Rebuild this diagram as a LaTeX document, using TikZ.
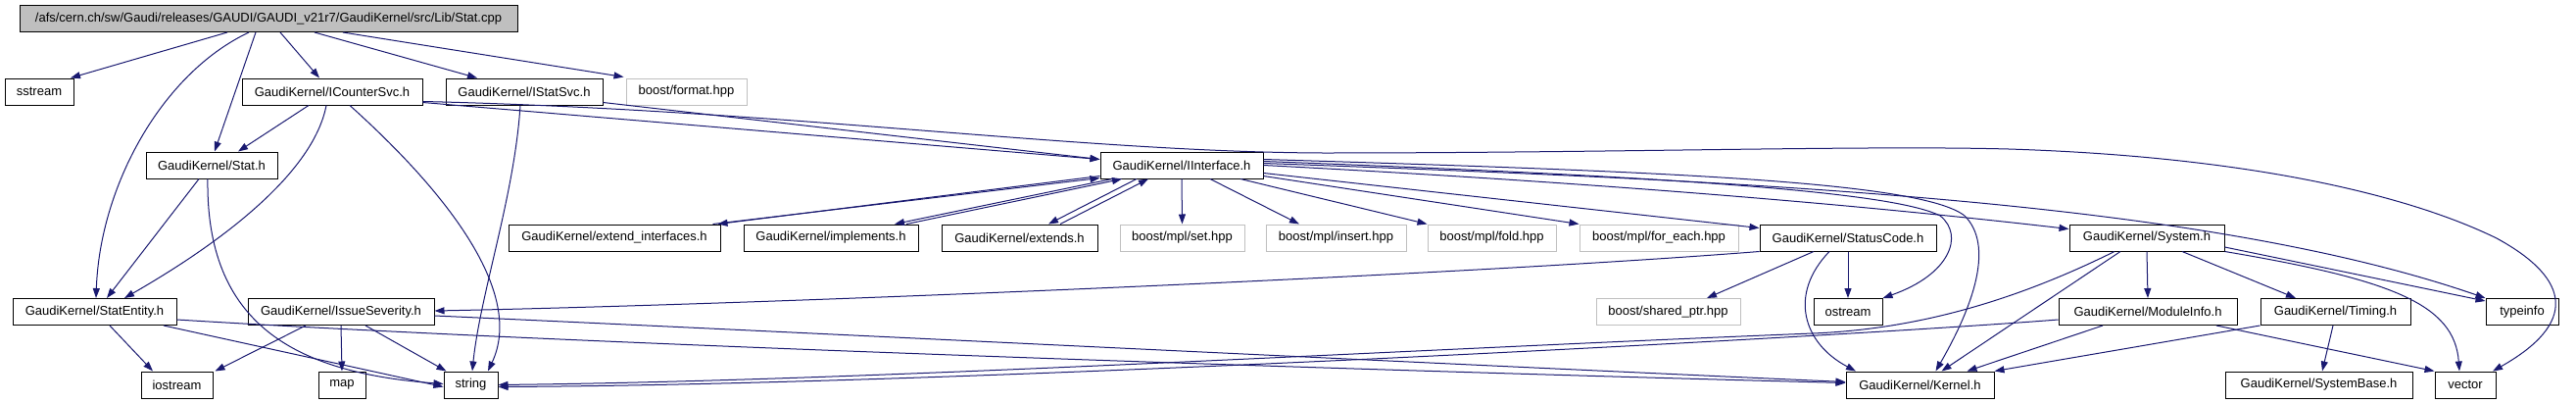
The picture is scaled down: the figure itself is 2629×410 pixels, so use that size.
\documentclass[tikz,border=0pt]{standalone}
\usepackage{fontspec}
\setmainfont{Liberation Sans}
\usetikzlibrary{arrows.meta}
\definecolor{edgeblue}{HTML}{191970}
\definecolor{extgray}{HTML}{BFBFBF}
\begin{document}
\begin{tikzpicture}[x=1pt,y=-1pt,
  box/.style={draw=black, line width=1pt, minimum height=27pt, inner sep=0pt, font=\fontsize{13}{15}\selectfont, anchor=center},
  extbox/.style={box, draw=extgray},
  dep/.style={draw=edgeblue, line width=1pt, -{Triangle[length=10pt,width=7pt]}}]
\useasboundingbox (0,0) rectangle (2629,410);
% row 1
\node[box, fill=extgray, minimum width=508pt] (top) at (274,19) {/afs/cern.ch/sw/Gaudi/releases/GAUDI/GAUDI\_v21r7/GaudiKernel/src/Lib/Stat.cpp};
% row 2
\node[box, minimum width=70pt] (sstream) at (40,93.5) {sstream};
\node[box, minimum width=184pt] (icounter) at (339,93.5) {GaudiKernel/ICounterSvc.h};
\node[box, minimum width=160pt] (istat) at (535,93.5) {GaudiKernel/IStatSvc.h};
\node[extbox, minimum width=123pt] (format) at (700.5,93.5) {boost/format.hpp};
% row 3
\node[box, minimum width=134pt] (stat) at (216,168.5) {GaudiKernel/Stat.h};
\node[box, minimum width=166pt] (iinterface) at (1206,168.5) {GaudiKernel/IInterface.h};
% row 4
\node[box, minimum width=216pt] (extif) at (627,242.5) {GaudiKernel/extend\_interfaces.h};
\node[box, minimum width=178pt] (impl) at (848,242.5) {GaudiKernel/implements.h};
\node[box, minimum width=159pt] (extends) at (1040.5,242.5) {GaudiKernel/extends.h};
\node[extbox, minimum width=127pt] (set) at (1206.5,242.5) {boost/mpl/set.hpp};
\node[extbox, minimum width=143pt] (insert) at (1363.5,242.5) {boost/mpl/insert.hpp};
\node[extbox, minimum width=131pt] (fold) at (1522.5,242.5) {boost/mpl/fold.hpp};
\node[extbox, minimum width=162pt] (foreach) at (1693,242.5) {boost/mpl/for\_each.hpp};
\node[box, minimum width=180pt] (statuscode) at (1886,242.5) {GaudiKernel/StatusCode.h};
\node[box, minimum width=158pt] (system) at (2191,242.5) {GaudiKernel/System.h};
% row 5
\node[box, minimum width=167pt] (statentity) at (96.5,318) {GaudiKernel/StatEntity.h};
\node[box, minimum width=190pt] (issue) at (348,318) {GaudiKernel/IssueSeverity.h};
\node[extbox, minimum width=147pt] (sharedptr) at (1702.5,318) {boost/shared\_ptr.hpp};
\node[box, minimum width=70pt] (ostream) at (1886,318) {ostream};
\node[box, minimum width=182pt] (moduleinfo) at (2192,318) {GaudiKernel/ModuleInfo.h};
\node[box, minimum width=153pt] (timing) at (2383.5,318) {GaudiKernel/Timing.h};
\node[box, minimum width=74pt] (typeinfo) at (2574,318) {typeinfo};
% row 6
\node[box, minimum width=73pt] (iostream) at (180.5,392.5) {iostream};
\node[box, minimum width=48pt] (map) at (349,392.5) {map};
\node[box, minimum width=55pt] (string) at (480.5,392.5) {string};
\node[box, minimum width=151pt] (kernel) at (1959.5,392.5) {GaudiKernel/Kernel.h};
\node[box, minimum width=191pt] (systembase) at (2366.5,392.5) {GaudiKernel/SystemBase.h};
\node[box, minimum width=62pt] (vector) at (2516,392.5) {vector};

% top
\draw[dep] ([xshift=-42pt]top.south) -- ([xshift=32pt]sstream.north);
\draw[dep] ([xshift=-20pt]top.south) .. controls (165,75) and (102,190) .. ([xshift=1.5pt]statentity.north);
\draw[dep] ([xshift=-13pt]top.south) -- ([xshift=3pt]stat.north);
\draw[dep] ([xshift=12pt]top.south) -- ([xshift=-13pt]icounter.north);
\draw[dep] ([xshift=47pt]top.south) -- ([xshift=-48pt]istat.north);
\draw[dep] ([xshift=76pt]top.south) -- ([xshift=-2pt,yshift=1pt]format.north west);
% icounter
\draw[dep] ([xshift=-24pt]icounter.south) -- ([xshift=27pt]stat.north);
\draw[dep] ([xshift=-6pt]icounter.south) .. controls (320,175) and (230,245) .. ([xshift=30.5pt]statentity.north);
\draw[dep] ([xshift=18pt]icounter.south) .. controls (460,200) and (535,300) .. ([xshift=17.5pt]string.north);
\draw[dep] ([yshift=-11pt]icounter.east) -- ([yshift=6pt]iinterface.west);
\draw[dep] ([yshift=-10pt]icounter.east) .. controls (800,112) and (1100,155) .. (1350,156) .. controls (1650,156) and (1900,148) .. (2050,152) .. controls (2300,160) and (2460,200) .. (2548,243) .. controls (2625,285) and (2630,330) .. ([xshift=28pt]vector.north);
% istat
\draw[dep] ([yshift=-11pt]istat.east) -- ([yshift=6pt]iinterface.west);
\draw[dep] ([xshift=-4pt]istat.south) .. controls (525,200) and (490,300) .. ([xshift=1.5pt]string.north);
% stat
\draw[dep] ([xshift=-13pt]stat.south) -- ([xshift=12.5pt]statentity.north);
\draw[dep] ([xshift=-4pt]stat.south) .. controls (210,330) and (300,380) .. ([yshift=1pt]string.west);
% statentity
\draw[dep] ([xshift=15.5pt]statentity.south) -- ([xshift=-24.5pt]iostream.north);
\draw[dep] ([xshift=70.5pt]statentity.south) -- ([yshift=-2pt]string.west);
\draw[dep] ([yshift=-8pt]statentity.east) .. controls (600,352) and (1400,378) .. ([yshift=2pt]kernel.west);
% issue
\draw[dep] ([xshift=-36pt]issue.south) -- ([xshift=2pt]iostream.north east);
\draw[dep] (issue.south) -- (map.north);
\draw[dep] ([xshift=25pt]issue.south) -- ([xshift=-25pt]string.north);
\draw[dep] ([yshift=-4pt]issue.east) .. controls (800,338) and (1400,368) .. ([yshift=3pt]kernel.west);
% statuscode
\draw[dep] (statuscode.south west) .. controls (1500,280) and (800,310) .. ([yshift=1pt]issue.east);
\draw[dep] ([xshift=-35pt]statuscode.south) -- ([xshift=39.5pt]sharedptr.north);
\draw[dep] (statuscode.south) -- (ostream.north);
\draw[dep] ([xshift=-19pt]statuscode.south) .. controls (1825,300) and (1840,350) .. ([xshift=-65.5pt]kernel.north);
% iinterface
\draw[dep] ([yshift=3pt]iinterface.south west) -- ([xshift=-3pt]extif.north east);
\draw[dep] ([xshift=-8pt]extif.north east) -- ([yshift=1pt]iinterface.south west);
\draw[dep] ([xshift=-71pt]iinterface.south) -- ([xshift=65pt]impl.north);
\draw[dep] ([xshift=77pt]impl.north) -- ([xshift=-61pt]iinterface.south);
\draw[dep] ([xshift=-46pt]iinterface.south) -- ([xshift=29.5pt]extends.north);
\draw[dep] ([xshift=41.5pt]extends.north) -- ([xshift=-34pt]iinterface.south);
\draw[dep] (iinterface.south) -- (set.north);
\draw[dep] ([xshift=29pt]iinterface.south) -- ([xshift=-37.5pt]insert.north);
\draw[dep] ([xshift=60pt]iinterface.south) -- (fold.north west);
\draw[dep] ([yshift=-11pt]iinterface.east) -- (foreach.north west);
\draw[dep] ([yshift=-8pt]iinterface.east) -- ([yshift=10pt]statuscode.west);
\draw[dep] (iinterface.east) .. controls (1700,190) and (1950,215) .. ([yshift=9pt]system.west);
\draw[dep] ([yshift=2pt]iinterface.east) .. controls (1800,185) and (2250,205) .. (typeinfo.north west);
\draw[dep] ([yshift=4pt]iinterface.east) .. controls (1700,180) and (1930,195) .. (1980,220) .. controls (2005,240) and (1990,280) .. (ostream.north east);
\draw[dep] ([yshift=6pt]iinterface.east) .. controls (1700,175) and (1960,185) .. (2005,220) .. controls (2035,250) and (2015,310) .. ([xshift=16pt]kernel.north);
% system
\draw[dep] ([xshift=-27pt]system.south) -- ([xshift=22pt]kernel.north);
\draw[dep] ([xshift=-33pt]system.south) .. controls (2050,310) and (1950,336) .. (1850,340) .. controls (1400,358) and (900,388) .. (string.east);
\draw[dep] (system.south) -- (moduleinfo.north);
\draw[dep] ([xshift=36pt]system.south) -- ([xshift=-40.5pt]timing.north);
\draw[dep] ([yshift=-9.5pt]system.east) -- ([yshift=-3pt]typeinfo.north west);
\draw[dep] (system.south east) .. controls (2440,285) and (2505,310) .. ([xshift=-6pt]vector.north);
% moduleinfo
\draw[dep] ([xshift=-46pt]moduleinfo.south) -- ([xshift=48pt]kernel.north);
\draw[dep] ([xshift=70pt]moduleinfo.south) -- (vector.north west);
\draw[dep] ([yshift=-8pt]moduleinfo.west) .. controls (1900,342) and (1000,392) .. ([yshift=-2pt]string.east);
% timing
\draw[dep] (timing.south west) -- (kernel.north east);
\draw[dep] ([xshift=-2.5pt]timing.south) -- ([xshift=3.5pt]systembase.north);
\end{tikzpicture}
\end{document}
